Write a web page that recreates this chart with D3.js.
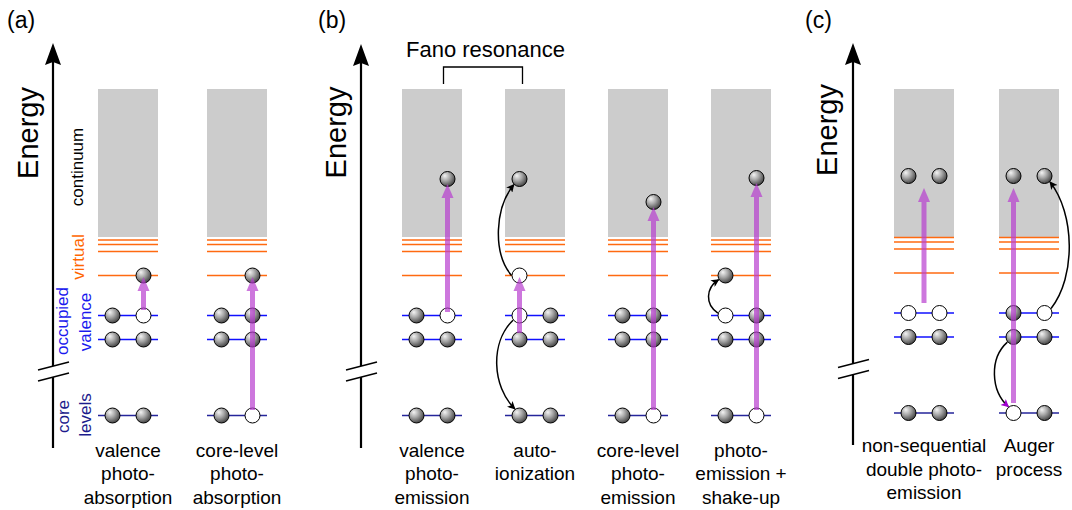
<!DOCTYPE html>
<html lang="en">
<head>
<meta charset="utf-8">
<title>Photoionization processes</title>
<script src="https://cdn.jsdelivr.net/npm/d3@7/dist/d3.min.js"></script>
<style>
  body { margin: 0; background: #fff; }
  text { font-family: "Liberation Sans", Arial, sans-serif; }
</style>
</head>
<body>
<script>
// ---- data ----
var panelNames = ["(a)", "(b)", "(c)"];
var processPanel = [0, 0, 1, 1, 1, 1, 2, 2];
var processLabels = [
  ["valence", "photo-", "absorption"],
  ["core-level", "photo-", "absorption"],
  ["valence", "photo-", "emission"],
  ["auto-", "ionization"],
  ["core-level", "photo-", "emission"],
  ["photo-", "emission +", "shake-up"],
  ["non-sequential", "double photo-", "emission"],
  ["Auger", "process"]
];
// energy levels, arbitrary units (core level = 0)
var coreE = 0;
var valenceE = [100, 76];
var virtualE = [140, 164, 171, 175.5];
var continuumE = [178.5, 326.5];
// occupancy of the two slots of each level: 1 electron, 0 hole
var upperValence = [[1, 0], [1, 1], [1, 0], [0, 1], [1, 1], [0, 1], [0, 0], [1, 0]];
var lowerValence = [[1, 1], [1, 1], [1, 1], [1, 1], [1, 1], [1, 1], [1, 1], [1, 1]];
var coreOcc = [[1, 1], [1, 0], [1, 1], [1, 1], [1, 0], [1, 0], [1, 1], [0, 1]];
// excited particles: [process, slot, energy, electron?]
var excited = [
  [0, 1, 140, 1], [1, 1, 140, 1], [2, 1, 236.5, 1], [3, 0, 140, 0], [3, 0, 236.5, 1],
  [4, 1, 213.5, 1], [5, 0, 140, 1], [5, 1, 237.5, 1],
  [6, 0, 237, 1], [6, 1, 237, 1], [7, 0, 237, 1], [7, 1, 237, 1]
];
// photon (purple) arrows: [process, slot, tail energy, tip energy]
var photons = [
  [0, 1, 105.5, 138.5], [1, 1, 5.5, 138.5], [2, 1, 103.5, 231.5], [3, 0, 82.5, 138.5],
  [4, 1, 5.5, 208.5], [5, 1, 5.5, 232.5], [6, 0.5, 110, 225], [7, 0, 10, 225]
];
// electron transfers: [process, slot0, E0, angle0, slot1, E1, angle1, bulge, head]
var transfers = [
  [3, 0, 140, 180, 0, 236.5, 135, -19, "black"],
  [3, 0, 100, 144, 0, 0, 235, -23, "black"],
  [5, 0, 100, 198, 0, 140, 149, -13, "black"],
  [7, 1, 100, 325, 1, 237, 47, 25, "black"],
  [7, 0, 76, 140, 0, 0, 231, -18, "purple"]
];

// ---- layout ----
var W = 1072, H = 510;
var layout = [
  {axisX: 53, cols: [98, 267], tipY: 43, bottomY: 448, shift: 0, nameX: 7, energyX: 38, energyY: 133, textY: 456.5},
  {axisX: 361, cols: [402, 771], tipY: 44, bottomY: 448, shift: 0, nameX: 318, energyX: 346, energyY: 132.5, textY: 456.5},
  {axisX: 853, cols: [894, 1059], tipY: 43, bottomY: 445, shift: -2.5, nameX: 805, energyX: 837, energyY: 130, textY: 452}
];
var colW = 60, ballR = 7.5, lineH = 23.6;

var svg = d3.select("body").append("svg")
  .attr("width", W).attr("height", H);

var defs = svg.append("defs");
var grad = defs.append("radialGradient").attr("id", "ball")
  .attr("cx", "38%").attr("cy", "35%").attr("r", "70%")
  .attr("fx", "32%").attr("fy", "28%");
grad.append("stop").attr("offset", "0%").attr("stop-color", "#f4f4f4");
grad.append("stop").attr("offset", "45%").attr("stop-color", "#a8a8a8");
grad.append("stop").attr("offset", "100%").attr("stop-color", "#3c3c3c");

[["black", "#000"], ["purple", "#a000d0"]].forEach(function (m) {
  defs.append("marker").attr("id", "head-" + m[0])
    .attr("viewBox", "0 0 10 10").attr("refX", 9).attr("refY", 5)
    .attr("markerWidth", 9).attr("markerHeight", 8)
    .attr("markerUnits", "userSpaceOnUse").attr("orient", "auto")
    .append("path").attr("d", "M0,0 L10,5 L0,10 L2.5,5 z").attr("fill", m[1]);
});

// scales per panel
var yBase = d3.scaleLinear().domain([0, 100]).range([415.5, 315.5]);
var yScale = layout.map(function (L) {
  return d3.scaleLinear().domain([0, 100]).range([415.5 + L.shift, 315.5 + L.shift]);
});
var xBand = layout.map(function (L, i) {
  var ids = processPanel.map(function (p, k) { return p === i ? k : -1; })
    .filter(function (k) { return k >= 0; });
  var n = ids.length;
  var step = (L.cols[1] - L.cols[0] - colW) / (n - 1);
  return d3.scaleBand().domain(ids).range(L.cols).paddingInner(1 - colW / step).paddingOuter(0);
});
var slotScale = d3.scaleLinear().domain([0, 1]).range([14.5, 45.5]);

function colX(k) { return xBand[processPanel[k]](k); }
function sx(k, s) { return colX(k) + slotScale(s); }
function sy(k, e) { return yScale[processPanel[k]](e); }

// ---- panels: axis, names, labels ----
layout.forEach(function (L, i) {
  var g = svg.append("g");
  var b1 = 366 + L.shift, b2 = 377 + L.shift;
  g.append("line").attr("x1", L.axisX).attr("x2", L.axisX)
    .attr("y1", L.tipY + 18).attr("y2", b1)
    .attr("stroke", "#000").attr("stroke-width", 2.2);
  g.append("line").attr("x1", L.axisX).attr("x2", L.axisX)
    .attr("y1", b2).attr("y2", L.bottomY)
    .attr("stroke", "#000").attr("stroke-width", 2.2);
  g.append("path")
    .attr("d", "M" + (L.axisX - 8) + "," + (L.tipY + 22) + " L" + L.axisX + "," + L.tipY +
      " L" + (L.axisX + 8) + "," + (L.tipY + 22) + " L" + L.axisX + "," + (L.tipY + 19) + "z")
    .attr("fill", "#000");
  [b1, b2].forEach(function (b) {
    g.append("line").attr("x1", L.axisX - 15).attr("x2", L.axisX + 16)
      .attr("y1", b + 4).attr("y2", b - 4)
      .attr("stroke", "#000").attr("stroke-width", 1.5);
  });
  g.append("text").attr("x", L.nameX).attr("y", 28)
    .attr("font-size", 23).text(panelNames[i]);
  g.append("text")
    .attr("transform", "translate(" + L.energyX + "," + L.energyY + ") rotate(-90)")
    .attr("text-anchor", "middle").attr("font-size", 29).text("Energy");
});

// Fano resonance bracket over processes 2 and 3
var fanoMid = (colX(2) + colW + colX(3)) / 2;
svg.append("path")
  .attr("d", "M" + (fanoMid - 40) + ",84 V67 H" + (fanoMid + 39) + " V84")
  .attr("fill", "none").attr("stroke", "#000").attr("stroke-width", 1.3);
svg.append("text").attr("x", fanoMid + 2).attr("y", 57)
  .attr("text-anchor", "middle").attr("font-size", 22).text("Fano resonance");

// side labels for panel (a)
var side = [
  ["continuum", 82.5, 167, "#000"],
  ["virtual", 84, 257, "#ff6600"],
  ["occupied", 67.5, 321, "#1a1aee"],
  ["valence", 91, 322, "#1a1aee"],
  ["core", 69, 416.5, "#1c1c8c"],
  ["levels", 91, 415, "#1c1c8c"]
];
side.forEach(function (d) {
  svg.append("text")
    .attr("transform", "translate(" + d[1] + "," + d[2] + ") rotate(-90)")
    .attr("text-anchor", "middle").attr("font-size", 17)
    .attr("fill", d[3]).text(d[0]);
});

// ---- columns ----
var cols = svg.append("g");
processPanel.forEach(function (p, k) {
  var x0 = colX(k);
  var y = yScale[p];
  cols.append("rect").attr("x", x0).attr("width", colW)
    .attr("y", yBase(continuumE[1])).attr("height", yBase(continuumE[0]) - yBase(continuumE[1]))
    .attr("fill", "#cccccc");
  virtualE.forEach(function (e) {
    cols.append("line").attr("x1", x0).attr("x2", x0 + colW)
      .attr("y1", y(e)).attr("y2", y(e))
      .attr("stroke", "#ff6a10").attr("stroke-width", 1.6);
  });
  valenceE.forEach(function (e) {
    cols.append("line").attr("x1", x0).attr("x2", x0 + colW)
      .attr("y1", y(e)).attr("y2", y(e))
      .attr("stroke", "#1010ff").attr("stroke-width", 1.6);
  });
  cols.append("line").attr("x1", x0).attr("x2", x0 + colW)
    .attr("y1", y(coreE)).attr("y2", y(coreE))
    .attr("stroke", "#25259a").attr("stroke-width", 1.6);

  var parts = [];
  [[upperValence, valenceE[0]], [lowerValence, valenceE[1]], [coreOcc, coreE]].forEach(function (lv) {
    lv[0][k].forEach(function (occ, s) { parts.push([s, lv[1], occ]); });
  });
  excited.filter(function (d) { return d[0] === k; }).forEach(function (d) {
    parts.push([d[1], d[2], d[3]]);
  });
  cols.selectAll(null).data(parts).enter().append("circle")
    .attr("cx", function (d) { return sx(k, d[0]); })
    .attr("cy", function (d) { return y(d[1]); })
    .attr("r", ballR)
    .attr("fill", function (d) { return d[2] ? "url(#ball)" : "#fff"; })
    .attr("stroke", "#000").attr("stroke-width", 1);

  var lab = cols.append("text").attr("text-anchor", "middle").attr("font-size", 19);
  processLabels[k].forEach(function (t, j) {
    lab.append("tspan").attr("x", x0 + colW / 2)
      .attr("y", layout[p].textY + j * lineH).text(t);
  });
});

// photon arrows
photons.forEach(function (d) {
  var k = d[0], x = sx(d[0], d[1]);
  var yt = sy(k, d[2]), yh = sy(k, d[3]);
  var g = svg.append("g").attr("opacity", 0.7);
  g.append("line").attr("x1", x).attr("x2", x).attr("y1", yt).attr("y2", yh + 10)
    .attr("stroke", "#b83ed0").attr("stroke-width", 5);
  g.append("path")
    .attr("d", "M" + x + "," + yh + " L" + (x + 6) + "," + (yh + 14) + " L" + (x - 6) + "," + (yh + 14) + "z")
    .attr("fill", "#b83ed0");
});

// electron transfers
transfers.forEach(function (d) {
  var k = d[0], r = ballR + 0.5;
  var a0 = d[3] * Math.PI / 180, a1 = d[6] * Math.PI / 180;
  var x0 = sx(k, d[1]) + r * Math.cos(a0), y0 = sy(k, d[2]) + r * Math.sin(a0);
  var x3 = sx(k, d[4]) + r * Math.cos(a1), y3 = sy(k, d[5]) + r * Math.sin(a1);
  var dy = (y3 - y0) * 0.25;
  var p = d3.path();
  p.moveTo(x0, y0);
  p.bezierCurveTo(x0 + d[7], y0 + dy, x3 + d[7], y3 - dy, x3, y3);
  svg.append("path").attr("d", p.toString())
    .attr("fill", "none").attr("stroke", "#000").attr("stroke-width", 1.5)
    .attr("marker-end", "url(#head-" + d[8] + ")");
});
</script>
</body>
</html>
